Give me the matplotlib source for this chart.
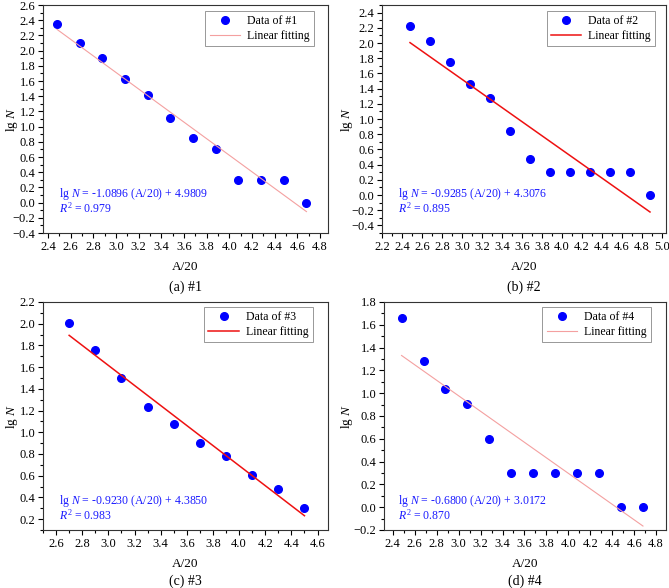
import numpy as np
import matplotlib
matplotlib.use("Agg")
import matplotlib.pyplot as plt
from matplotlib.ticker import MultipleLocator, AutoMinorLocator

plt.rcParams['font.family'] = ['Liberation Serif', 'DejaVu Serif']
plt.rcParams['mathtext.fontset'] = 'custom'
plt.rcParams['mathtext.rm'] = 'Liberation Serif'
plt.rcParams['mathtext.it'] = 'Liberation Serif:italic'

# data
x1 = [2.48, 2.68, 2.88, 3.08, 3.28, 3.48, 3.68, 3.88, 4.08, 4.28, 4.48, 4.68]
y1 = [2.35, 2.10, 1.90, 1.62, 1.41, 1.11, 0.845, 0.699, 0.301, 0.301, 0.301, 0.0]
x2 = [2.48, 2.68, 2.88, 3.08, 3.28, 3.48, 3.68, 3.88, 4.08, 4.28, 4.48, 4.68, 4.88]
y2 = [2.22, 2.03, 1.75, 1.46, 1.28, 0.845, 0.477, 0.301, 0.301, 0.301, 0.301, 0.301, 0.0]
x3 = [2.7, 2.9, 3.1, 3.3, 3.5, 3.7, 3.9, 4.1, 4.3, 4.5]
y3 = [2.01, 1.76, 1.50, 1.23, 1.08, 0.903, 0.778, 0.602, 0.477, 0.301]
x4 = [2.48, 2.68, 2.88, 3.08, 3.28, 3.48, 3.68, 3.88, 4.08, 4.28, 4.48, 4.68]
y4 = [1.66, 1.28, 1.04, 0.903, 0.602, 0.301, 0.301, 0.301, 0.301, 0.301, 0.0, 0.0]

slopes = [-1.0896, -0.9285, -0.9230, -0.6800]
intercepts = [4.9809, 4.3076, 4.3850, 3.0172]
r2 = ['0.979', '0.895', '0.983', '0.870']
captions = ['(a) #1', '(b) #2', '(c) #3', '(d) #4']

W, H = 669, 588
fig = plt.figure(figsize=(W / 100, H / 100), dpi=100)

def frac(l, t, r, b):
    return [l / W, 1 - b / H, (r - l) / W, (b - t) / H]

panels = [
    dict(x=x1, y=y1, rect=(43, 5, 328, 233), xlim=(2.356, 4.87), ylim=(-0.4, 2.6),
         lc='#f4a0a0', lw=0.8, leg=(0.951, 0.974), txt=(0.056, 0.17), ylx=-0.109, cap=-0.237),
    dict(x=x2, y=y2, rect=(382, 5, 666, 233), xlim=(2.2, 5.04), ylim=(-0.5, 2.5),
         lc='#ee1111', lw=1.1, leg=(0.962, 0.974), txt=(0.056, 0.17), ylx=-0.122, cap=-0.237),
    dict(x=x3, y=y3, rect=(43, 302, 328, 530), xlim=(2.5, 4.68), ylim=(0.1, 2.2),
         lc='#ee1111', lw=1.1, leg=(0.947, 0.978), txt=(0.056, 0.127), ylx=-0.109, cap=-0.226),
    dict(x=x4, y=y4, rect=(384, 302, 666, 530), xlim=(2.32, 4.89), ylim=(-0.2, 1.8),
         lc='#f4a0a0', lw=0.8, leg=(0.947, 0.978), txt=(0.05, 0.127), ylx=-0.13, cap=-0.226),
]

for i, p in enumerate(panels):
    ax = fig.add_axes(frac(*p['rect']))
    xs = np.array(p['x'])
    fit_x = np.array([xs[0], xs[-1]])
    fit_y = slopes[i] * fit_x + intercepts[i]
    ax.plot(xs, p['y'], 'o', color='#0000ff', markersize=5.5, label='Data of #%d' % (i + 1))
    ax.plot(fit_x, fit_y, '-', color=p['lc'], lw=p['lw'], label='Linear fitting')
    ax.set_xlim(*p['xlim'])
    ax.set_ylim(*p['ylim'])
    ax.xaxis.set_major_locator(MultipleLocator(0.2))
    ax.yaxis.set_major_locator(MultipleLocator(0.2))
    ax.xaxis.set_minor_locator(AutoMinorLocator(2))
    ax.yaxis.set_minor_locator(AutoMinorLocator(2))
    ax.tick_params(which='both', direction='out', labelsize=9, width=0.8, pad=2)
    ax.tick_params(which='major', length=3.5)
    ax.tick_params(which='minor', length=2)
    ax.yaxis.set_major_formatter(plt.FuncFormatter(lambda v, _: ('%.1f' % v).replace('-', '\u2212')))
    ax.xaxis.set_major_formatter(plt.FuncFormatter(lambda v, _: '%.1f' % v))
    for s in ax.spines.values():
        s.set_linewidth(0.8)
        s.set_color('#333333')
    ax.set_ylabel(r'lg $\mathit{N}$', fontsize=9.5, va='center')
    ax.yaxis.set_label_coords(p['ylx'], 0.5)
    ax.set_xlabel('A/20', fontsize=9.5, va='center')
    ax.xaxis.set_label_coords(0.5, -0.149)
    leg = ax.legend(loc='upper right', bbox_to_anchor=p['leg'], borderaxespad=0,
                    fontsize=8.5, fancybox=False, framealpha=1, edgecolor='#888888',
                    handlelength=2.6, borderpad=0.35, labelspacing=0.25, handletextpad=0.6)
    leg.get_frame().set_linewidth(0.6)
    tx, ty = p['txt']
    ax.text(tx, ty, r'lg $\mathit{N}$ = %.4f (A/20) + %.4f' % (slopes[i], intercepts[i]),
            transform=ax.transAxes, color='#1a1aff', fontsize=8.5, va='center')
    ax.text(tx, ty - 0.063, r'$\mathit{R}^2$ = %s' % r2[i],
            transform=ax.transAxes, color='#1a1aff', fontsize=8.5, va='center')
    ax.text(0.5, p['cap'], captions[i], transform=ax.transAxes, ha='center', va='center', fontsize=10)

fig.savefig('out.png', dpi=100)
